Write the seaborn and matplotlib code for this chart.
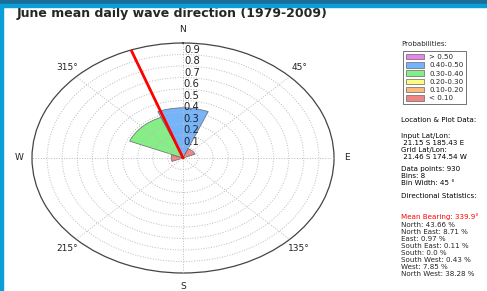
import numpy as np
import matplotlib
matplotlib.use('Agg')
import matplotlib.pyplot as plt
import seaborn as sns
from matplotlib.patches import Patch, Rectangle

# wave direction bins (deg) and share of days per bin
directions = ['North', 'North East', 'East', 'South East', 'South', 'South West', 'West', 'North West']
bin_centers = [0, 45, 90, 135, 180, 225, 270, 315]
percent = [43.66, 8.71, 0.97, 0.11, 0.0, 0.43, 7.85, 38.28]
mean_bearing = 339.9

prob_labels = ['> 0.50', '0.40-0.50', '0.30-0.40', '0.20-0.30', '0.10-0.20', '< 0.10']
prob_colors = ['#e885e8', '#75b3fb', '#86ee86', '#fbfb80', '#fbbb7c', '#f08484']
prob_lower = [0.5, 0.4, 0.3, 0.2, 0.1, 0.0]

theta_labels = ['N', '45°', 'E', '135°', 'S', '215°', 'W', '315°']
r_ticks = [0.1, 0.2, 0.3, 0.4, 0.5, 0.6, 0.7, 0.8, 0.9]

info_lines = [
    ('Location & Plot Data:', 120, 'black'),
    ('Input Lat/Lon:', 136, 'black'),
    (' 21.15 S 185.43 E', 143, 'black'),
    ('Grid Lat/Lon:', 150, 'black'),
    (' 21.46 S 174.54 W', 157, 'black'),
    ('Data points: 930', 169, 'black'),
    ('Bins: 8', 176, 'black'),
    ('Bin Width: 45 °', 183, 'black'),
    ('Directional Statistics:', 196, 'black'),
    ('Mean Bearing: %.1f°' % mean_bearing, 217, 'red'),
]

sns.set_style('white')
plt.rcParams['font.family'] = ['DejaVu Sans']

W, H = 487, 291
fig = plt.figure(figsize=(W / 100, H / 100), dpi=100)
ax = fig.add_axes([32 / W, 1 - 273 / H, 302 / W, 230 / H], projection='polar')
ax.set_aspect('auto')
ax.set_theta_zero_location('N')
ax.set_theta_direction(-1)
ax.set_axisbelow(False)

probs = np.array(percent) / 100.0
def pick_color(p):
    for lo, c in zip(prob_lower, prob_colors):
        if p > lo:
            return c
    return prob_colors[-1]
colors = [pick_color(p) for p in probs]

ax.bar(np.deg2rad(bin_centers), probs, width=np.deg2rad(45), color=colors,
       edgecolor='#666666', linewidth=0.5, zorder=2)
ax.plot([np.deg2rad(mean_bearing)] * 2, [0, 1.0], color='red', lw=2, zorder=3)

ax.set_ylim(0, 1.0)
ax.set_yticks(r_ticks)
ax.set_yticklabels([str(t) for t in r_ticks], fontsize=7.2, color='#222222')
ax.set_rlabel_position(0.5)
ax.set_thetagrids(bin_centers, theta_labels)
ax.tick_params(axis='x', labelsize=6.5, pad=-1, colors='#222222')
ax.grid(True, ls=':', color='#bbbbbb', lw=0.7)
ax.spines['polar'].set_color('#444444')
ax.spines['polar'].set_linewidth(0.9)

fig.text(17 / W, 1 - 14 / H, 'June mean daily wave direction (1979-2009)',
         fontsize=9, weight='bold', va='center', ha='left')

fs = 5.1
fig.text(401 / W, 1 - 44 / H, 'Probabilities:', fontsize=fs, va='center')
handles = [Patch(facecolor=c, edgecolor='#666666', lw=0.5) for c in prob_colors]
leg = fig.legend(handles, prob_labels, loc='upper left', bbox_to_anchor=(403 / W, 1 - 51 / H),
                 bbox_transform=fig.transFigure, fontsize=fs, frameon=True, fancybox=False,
                 borderaxespad=0, handlelength=2.5, handleheight=0.8, labelspacing=0.3,
                 borderpad=0.4, handletextpad=0.8, edgecolor='#333333')
leg.get_frame().set_linewidth(0.6)

for txt, y, c in info_lines:
    fig.text(401 / W, 1 - y / H, txt, fontsize=fs, va='center', color=c)
y = 225
for d, p in zip(directions, percent):
    fig.text(401 / W, 1 - y / H, '%s: %s %%' % (d, p), fontsize=fs, va='center')
    y += 7

# screenshot frame
fig.patches.append(Rectangle((0, 1 - 4 / H), 1, 4 / H, transform=fig.transFigure,
                             color='#1c6d99', zorder=10))
fig.patches.append(Rectangle((0, 1 - 7 / H), 1, 3 / H, transform=fig.transFigure,
                             color='#0a9fd6', zorder=10))
fig.patches.append(Rectangle((0, 0), 3 / W, 1 - 4 / H, transform=fig.transFigure,
                             color='#0a9fd6', zorder=10))

fig.savefig('out.png', dpi=100)
